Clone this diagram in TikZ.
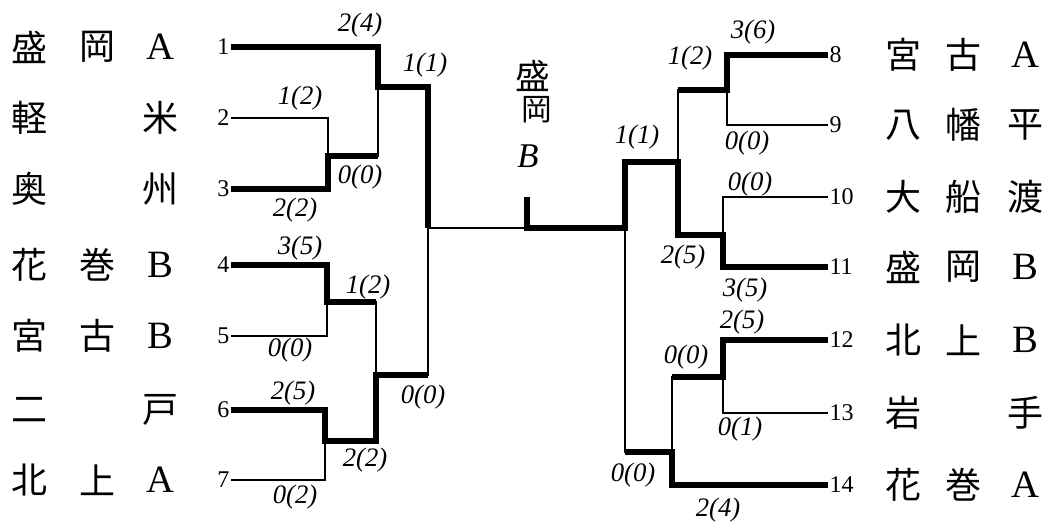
\documentclass[tikz,border=0pt]{standalone}
\usepackage{fontspec}
\setmainfont{Liberation Serif}
\newfontfamily\jpfont{Noto Sans CJK JP}
\newcommand\lat[1]{{\rmfamily\fontsize{29}{29}\selectfont #1}}

\begin{document}
\begin{tikzpicture}[x=0.75pt, y=-0.75pt,
    base/.style={line width=1.6pt},
    winner/.style={line width=4.8pt, line join=miter},
    namechar/.style={inner sep=0pt, font=\jpfont\fontsize{27}{27}\selectfont},
    seed/.style={inner sep=1pt, font=\fontsize{18}{18}\selectfont},
    score/.style={inner sep=0pt, font=\itshape\fontsize{20}{20}\selectfont}]
  \useasboundingbox (0,0) rectangle (1048,524);

  % teams, left half
  \foreach \i/\y/\a/\b/\c in {1/47/盛/岡/\lat{A}, 2/118/軽//米, 3/189/奥//州,
      4/265/花/巻/\lat{B}, 5/336/宮/古/\lat{B}, 6/410/二//戸, 7/480/北/上/\lat{A}} {
    \node[seed, anchor=east] (s\i) at (231,\y) {\i};
    \node[namechar] (n\i a) at (30,\y) {\a};
    \node[namechar] (n\i b) at (97,\y) {\b};
    \node[namechar] (n\i c) at (160,\y) {\c};
  }
  % teams, right half
  \foreach \i/\y/\a/\b/\c in {8/55/宮/古/\lat{A}, 9/125/八/幡/平, 10/197/大/船/渡,
      11/267/盛/岡/\lat{B}, 12/340/北/上/\lat{B}, 13/413/岩//手, 14/485/花/巻/\lat{A}} {
    \node[seed, anchor=west] (s\i) at (828,\y) {\i};
    \node[namechar] (n\i a) at (903,\y) {\a};
    \node[namechar] (n\i b) at (963,\y) {\b};
    \node[namechar] (n\i c) at (1025,\y) {\c};
  }

  % joints
  \coordinate (m23) at (328,156);
  \coordinate (m123) at (378,87);
  \coordinate (m45) at (327,302);
  \coordinate (m67) at (325,441);
  \coordinate (m4567) at (376,375);
  \coordinate (mL) at (428,228);
  \coordinate (m89) at (727,90);
  \coordinate (m1011) at (723,235);
  \coordinate (m811) at (678,162);
  \coordinate (m1213) at (723,377);
  \coordinate (m1214) at (672,452);
  \coordinate (mR) at (625,228);
  \coordinate (champ) at (527,197);

  % bracket
  \draw[base] (s2.east) -| (m23) |- (s3.east);
  \draw[base] (s1.east) -| (m123) |- (m23);
  \draw[base] (s4.east) -| (m45) |- (s5.east);
  \draw[base] (s6.east) -| (m67) |- (s7.east);
  \draw[base] (m45) -| (m4567) |- (m67);
  \draw[base] (m123) -| (mL) |- (m4567);
  \draw[base] (mL) -- (mR);
  \draw[base] (s8.west) -| (m89) |- (s9.west);
  \draw[base] (s10.west) -| (m1011) |- (s11.west);
  \draw[base] (s12.west) -| (m1213) |- (s13.west);
  \draw[base] (m89) -| (m811) |- (m1011);
  \draw[base] (m1213) -| (m1214) |- (s14.west);
  \draw[base] (m811) -| (mR) |- (m1214);

  % winners
  \draw[winner] (s1.east) -| (m123) -| (mL);
  \draw[winner] (s3.east) -| (m23) -- (m23 -| m123);
  \draw[winner] (s4.east) -| (m45) -- (m45 -| m4567);
  \draw[winner] (s6.east) -| (m67) -| (m4567) -- (m4567 -| mL);
  \draw[winner] (s8.west) -| (m89) -- (m89 -| m811);
  \draw[winner] (s11.west) -| (m1011) -| (m811) -| (mR) -| (champ);
  \draw[winner] (s12.west) -| (m1213) -- (m1213 -| m1214);
  \draw[winner] (s14.west) -| (m1214) -- (m1214 -| mR);

  % champion
  \node[namechar, font=\jpfont\fontsize{26}{26}\selectfont] (c1) at (533,76) {盛};
  \node[namechar, font=\jpfont\fontsize{23}{23}\selectfont] (c2) at (537,110) {岡};
  \node[score, font=\itshape\fontsize{26}{26}\selectfont] (c3) at (528,156) {B};

  % scores
  \foreach \x/\y/\t [count=\k] in {360/25/2(4), 425/65/1(1), 300/98/1(2), 360/177/0(0),
      295/210/2(2), 300/248/3(5), 368/287/1(2), 290/350/0(0), 293/393/2(5),
      423/397/0(0), 365/460/2(2), 295/497/0(2),
      753/32/3(6), 690/58/1(2), 747/143/0(0), 637/137/1(1), 750/184/0(0),
      683/257/2(5), 745/290/3(5), 742/322/2(5), 686/357/0(0), 740/429/0(1),
      633/475/0(0), 718/510/2(4)}
    \node[score] (sc\k) at (\x,\y) {\t};
\end{tikzpicture}
\end{document}
